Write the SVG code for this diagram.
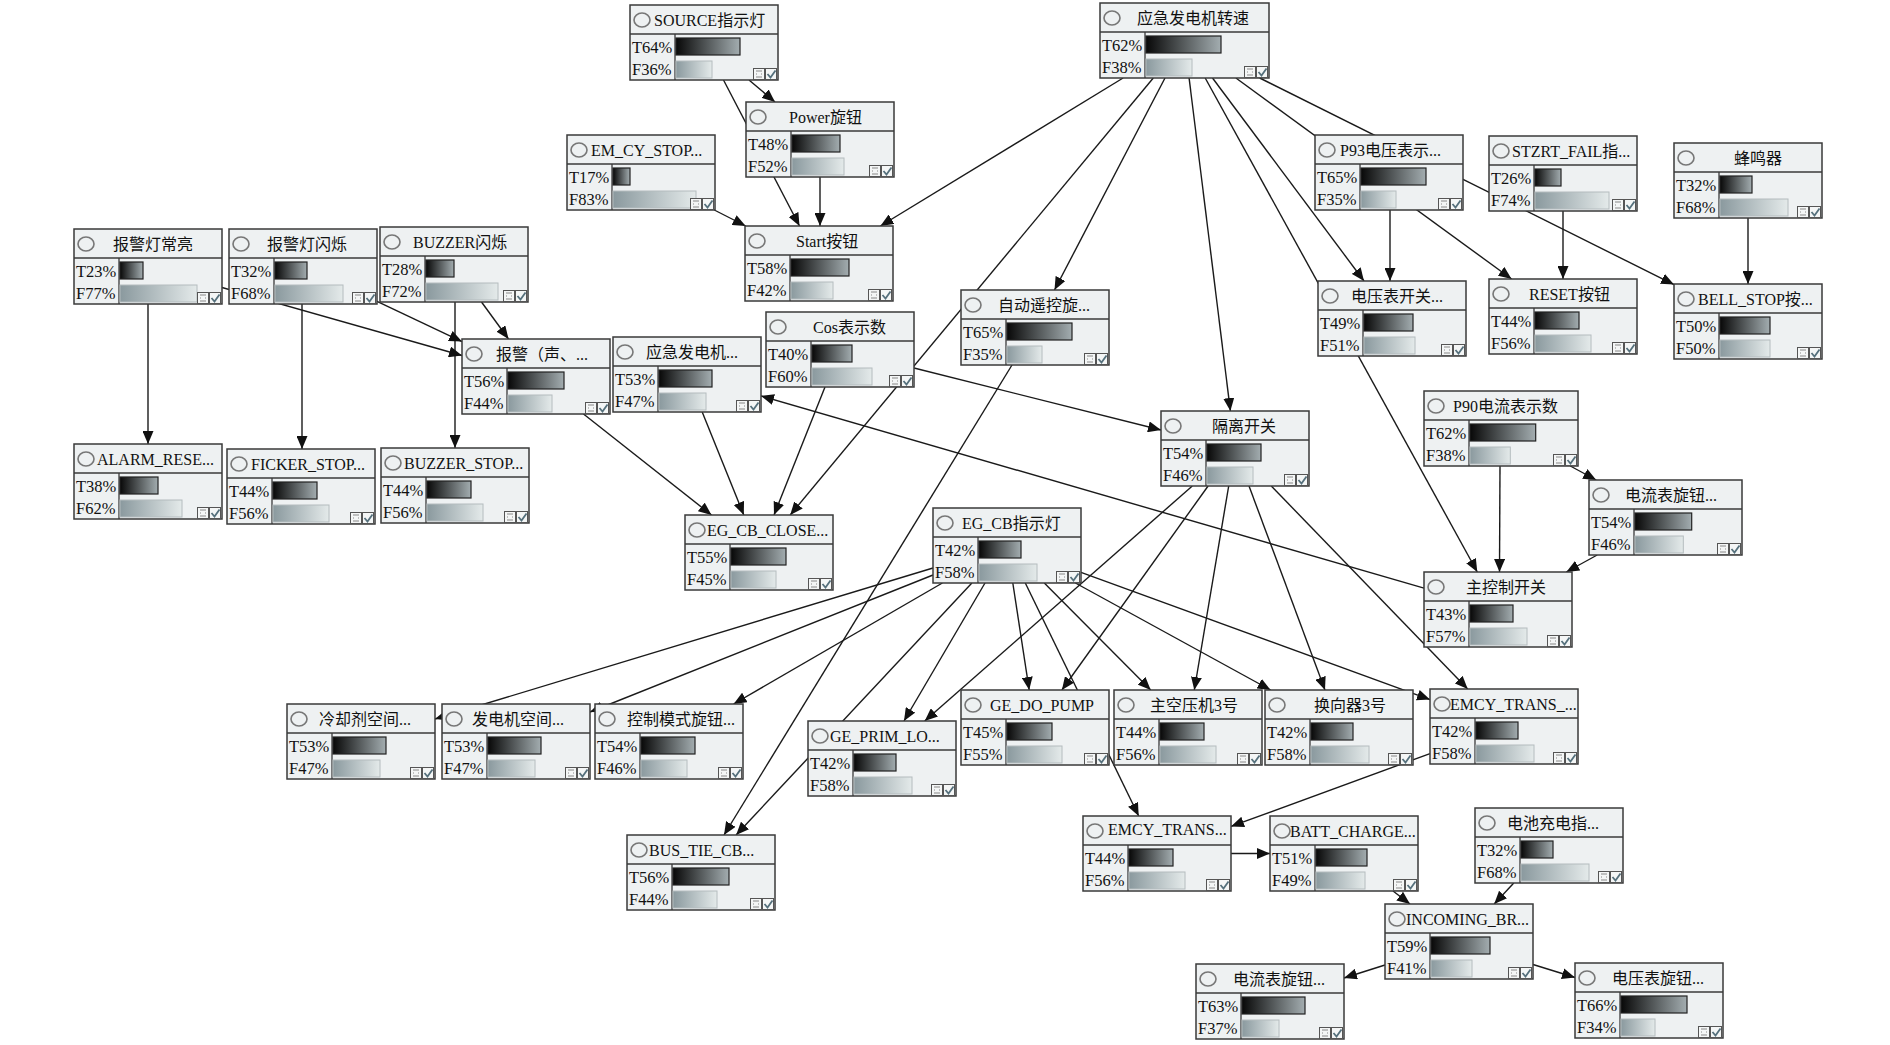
<svg xmlns="http://www.w3.org/2000/svg" xmlns:xlink="http://www.w3.org/1999/xlink" width="1890" height="1045" viewBox="0 0 1890 1045">
<style>
.box{fill:#eef1f2;stroke:#3a3a3a;stroke-width:1.5}
.sep{stroke:#3a3a3a;stroke-width:1.3}
.dot{fill:none;stroke:#777;stroke-width:1.6}
text{font-family:'Liberation Serif','Noto Sans CJK SC',serif;fill:#111}
.ttl{font-size:16px}
.pct{font-size:16.5px}
.tb{fill:url(#gT);stroke:#222;stroke-width:1.2}
.fb{fill:url(#gF);stroke:#b4bcbe;stroke-width:1}
#edges line{stroke:#1a1a1a;stroke-width:1.4;marker-end:url(#arr)}
</style>
<defs>
<linearGradient id="gT" x1="0" y1="0" x2="1" y2="0"><stop offset="0" stop-color="#080808"/><stop offset="1" stop-color="#a3adb0"/></linearGradient>
<linearGradient id="gF" x1="0" y1="0" x2="1" y2="0"><stop offset="0" stop-color="#8a999e"/><stop offset="1" stop-color="#e4eaea"/></linearGradient>
<marker id="arr" markerUnits="userSpaceOnUse" markerWidth="14" markerHeight="11" refX="13" refY="5.5" orient="auto" viewBox="0 0 14 11"><path d="M0,0 L13,5.5 L0,11 z" fill="#111"/></marker>
<g id="ico">
<rect x="0.5" y="0.5" width="11" height="11" fill="#f4f6f6" stroke="#555" stroke-width="1"/>
<path d="M3,3h2M7,3h2M3,6h1M8,6h1M3,9h2M7,9h2M6,2v2M6,8v2" stroke="#888" stroke-width="1"/>
<rect x="12.5" y="0.5" width="11" height="11" fill="#f4f6f6" stroke="#555" stroke-width="1"/>
<path d="M14.5,6 L17.5,9.5 L22.5,2.5" fill="none" stroke="#55707c" stroke-width="1.8"/>
</g>
</defs>
<rect width="1890" height="1045" fill="#ffffff"/>
<g id="edges">
<line x1="749" y1="80" x2="775" y2="102"/>
<line x1="723.5" y1="80" x2="799.5" y2="226"/>
<line x1="820" y1="177" x2="820" y2="226"/>
<line x1="714.3" y1="210" x2="745.7" y2="226"/>
<line x1="1123.1" y1="78" x2="880.4" y2="226"/>
<line x1="1165" y1="78" x2="1054.5" y2="290"/>
<line x1="1153.3" y1="78" x2="790.2" y2="515"/>
<line x1="1189.1" y1="78" x2="1230.4" y2="411"/>
<line x1="1205.2" y1="78" x2="1477.3" y2="572"/>
<line x1="1212.5" y1="78" x2="1364" y2="281"/>
<line x1="1235.9" y1="78" x2="1511.6" y2="279"/>
<line x1="1259.7" y1="78" x2="1674" y2="284.6"/>
<line x1="1390" y1="210" x2="1390" y2="281"/>
<line x1="1563" y1="211" x2="1563" y2="279"/>
<line x1="1748" y1="218" x2="1748" y2="284"/>
<line x1="148" y1="304" x2="148" y2="444"/>
<line x1="302" y1="304" x2="302" y2="449"/>
<line x1="455" y1="302" x2="455" y2="448"/>
<line x1="222" y1="287.5" x2="462" y2="355.5"/>
<line x1="377" y1="301.4" x2="462" y2="341.6"/>
<line x1="481.5" y1="302" x2="508.5" y2="339"/>
<line x1="583.5" y1="414" x2="711.5" y2="515"/>
<line x1="702.2" y1="412" x2="743.8" y2="515"/>
<line x1="825" y1="387" x2="774" y2="515"/>
<line x1="914" y1="368" x2="1161" y2="430"/>
<line x1="1424" y1="588.1" x2="761" y2="395.9"/>
<line x1="1012" y1="365" x2="724" y2="835"/>
<line x1="1192.3" y1="486" x2="924.7" y2="721"/>
<line x1="1208.1" y1="486" x2="1061.9" y2="690"/>
<line x1="1228.7" y1="486" x2="1194.3" y2="690"/>
<line x1="1249" y1="486" x2="1325" y2="690"/>
<line x1="1271.3" y1="486" x2="1467.7" y2="689"/>
<line x1="933" y1="568" x2="435" y2="719"/>
<line x1="933" y1="575" x2="590" y2="712"/>
<line x1="942.4" y1="583" x2="733.6" y2="704"/>
<line x1="985" y1="583" x2="904" y2="721"/>
<line x1="971.9" y1="583" x2="736.1" y2="835"/>
<line x1="1012.8" y1="583" x2="1029.2" y2="690"/>
<line x1="1025.3" y1="583" x2="1138.7" y2="816"/>
<line x1="1044.3" y1="583" x2="1150.7" y2="690"/>
<line x1="1075.4" y1="583" x2="1270.6" y2="690"/>
<line x1="1081" y1="572.4" x2="1430" y2="699.6"/>
<line x1="1430" y1="753.6" x2="1231" y2="826.4"/>
<line x1="1231" y1="853.5" x2="1270" y2="853.5"/>
<line x1="1393" y1="891" x2="1410" y2="904"/>
<line x1="1513.8" y1="883" x2="1494.2" y2="904"/>
<line x1="1385" y1="965" x2="1344" y2="978"/>
<line x1="1533" y1="964.5" x2="1575" y2="977.5"/>
<line x1="1500" y1="466" x2="1499.5" y2="572"/>
<line x1="1570.3" y1="466" x2="1596.2" y2="480"/>
<line x1="1597.2" y1="555" x2="1566.3" y2="572"/>
</g>

<g id="n1" transform="translate(74,229)"><rect class="box" width="148" height="75"/><line class="sep" x1="0" y1="29" x2="148" y2="29"/><line class="sep" x1="45" y1="29" x2="45" y2="75"/><ellipse class="dot" cx="12" cy="15" rx="8" ry="7"/><text class="ttl" x="39" y="21">报警灯常亮</text><text class="pct" x="2" y="48">T23%</text><text class="pct" x="2" y="70">F77%</text><rect class="tb" x="46" y="33" width="23" height="17"/><rect class="fb" x="46" y="56" width="77" height="17"/><use xlink:href="#ico" x="123" y="63"/></g>
<g id="n2" transform="translate(229,229)"><rect class="box" width="148" height="75"/><line class="sep" x1="0" y1="29" x2="148" y2="29"/><line class="sep" x1="45" y1="29" x2="45" y2="75"/><ellipse class="dot" cx="12" cy="15" rx="8" ry="7"/><text class="ttl" x="38" y="21">报警灯闪烁</text><text class="pct" x="2" y="48">T32%</text><text class="pct" x="2" y="70">F68%</text><rect class="tb" x="46" y="33" width="32" height="17"/><rect class="fb" x="46" y="56" width="68" height="17"/><use xlink:href="#ico" x="123" y="63"/></g>
<g id="n3" transform="translate(380,227)"><rect class="box" width="148" height="75"/><line class="sep" x1="0" y1="29" x2="148" y2="29"/><line class="sep" x1="45" y1="29" x2="45" y2="75"/><ellipse class="dot" cx="12" cy="15" rx="8" ry="7"/><text class="ttl" x="33" y="21">BUZZER闪烁</text><text class="pct" x="2" y="48">T28%</text><text class="pct" x="2" y="70">F72%</text><rect class="tb" x="46" y="33" width="28" height="17"/><rect class="fb" x="46" y="56" width="72" height="17"/><use xlink:href="#ico" x="123" y="63"/></g>
<g id="n4" transform="translate(630,5)"><rect class="box" width="148" height="75"/><line class="sep" x1="0" y1="29" x2="148" y2="29"/><line class="sep" x1="45" y1="29" x2="45" y2="75"/><ellipse class="dot" cx="12" cy="15" rx="8" ry="7"/><text class="ttl" x="24" y="21">SOURCE指示灯</text><text class="pct" x="2" y="48">T64%</text><text class="pct" x="2" y="70">F36%</text><rect class="tb" x="46" y="33" width="64" height="17"/><rect class="fb" x="46" y="56" width="36" height="17"/><use xlink:href="#ico" x="123" y="63"/></g>
<g id="n5" transform="translate(746,102)"><rect class="box" width="148" height="75"/><line class="sep" x1="0" y1="29" x2="148" y2="29"/><line class="sep" x1="45" y1="29" x2="45" y2="75"/><ellipse class="dot" cx="12" cy="15" rx="8" ry="7"/><text class="ttl" x="43" y="21">Power旋钮</text><text class="pct" x="2" y="48">T48%</text><text class="pct" x="2" y="70">F52%</text><rect class="tb" x="46" y="33" width="48" height="17"/><rect class="fb" x="46" y="56" width="52" height="17"/><use xlink:href="#ico" x="123" y="63"/></g>
<g id="n6" transform="translate(567,135)"><rect class="box" width="148" height="75"/><line class="sep" x1="0" y1="29" x2="148" y2="29"/><line class="sep" x1="45" y1="29" x2="45" y2="75"/><ellipse class="dot" cx="12" cy="15" rx="8" ry="7"/><text class="ttl" x="24" y="21">EM_CY_STOP...</text><text class="pct" x="2" y="48">T17%</text><text class="pct" x="2" y="70">F83%</text><rect class="tb" x="46" y="33" width="17" height="17"/><rect class="fb" x="46" y="56" width="83" height="17"/><use xlink:href="#ico" x="123" y="63"/></g>
<g id="n7" transform="translate(745,226)"><rect class="box" width="148" height="75"/><line class="sep" x1="0" y1="29" x2="148" y2="29"/><line class="sep" x1="45" y1="29" x2="45" y2="75"/><ellipse class="dot" cx="12" cy="15" rx="8" ry="7"/><text class="ttl" x="51" y="21">Start按钮</text><text class="pct" x="2" y="48">T58%</text><text class="pct" x="2" y="70">F42%</text><rect class="tb" x="46" y="33" width="58" height="17"/><rect class="fb" x="46" y="56" width="42" height="17"/><use xlink:href="#ico" x="123" y="63"/></g>
<g id="n8" transform="translate(766,312)"><rect class="box" width="148" height="75"/><line class="sep" x1="0" y1="29" x2="148" y2="29"/><line class="sep" x1="45" y1="29" x2="45" y2="75"/><ellipse class="dot" cx="12" cy="15" rx="8" ry="7"/><text class="ttl" x="47" y="21">Cos表示数</text><text class="pct" x="2" y="48">T40%</text><text class="pct" x="2" y="70">F60%</text><rect class="tb" x="46" y="33" width="40" height="17"/><rect class="fb" x="46" y="56" width="60" height="17"/><use xlink:href="#ico" x="123" y="63"/></g>
<g id="n9" transform="translate(1100,3)"><rect class="box" width="169" height="75"/><line class="sep" x1="0" y1="29" x2="169" y2="29"/><line class="sep" x1="45" y1="29" x2="45" y2="75"/><ellipse class="dot" cx="12" cy="15" rx="8" ry="7"/><text class="ttl" x="37" y="21">应急发电机转速</text><text class="pct" x="2" y="48">T62%</text><text class="pct" x="2" y="70">F38%</text><rect class="tb" x="46" y="33" width="75" height="17"/><rect class="fb" x="46" y="56" width="46" height="17"/><use xlink:href="#ico" x="144" y="63"/></g>
<g id="n10" transform="translate(1315,135)"><rect class="box" width="148" height="75"/><line class="sep" x1="0" y1="29" x2="148" y2="29"/><line class="sep" x1="45" y1="29" x2="45" y2="75"/><ellipse class="dot" cx="12" cy="15" rx="8" ry="7"/><text class="ttl" x="25" y="21">P93电压表示...</text><text class="pct" x="2" y="48">T65%</text><text class="pct" x="2" y="70">F35%</text><rect class="tb" x="46" y="33" width="65" height="17"/><rect class="fb" x="46" y="56" width="35" height="17"/><use xlink:href="#ico" x="123" y="63"/></g>
<g id="n11" transform="translate(1489,136)"><rect class="box" width="148" height="75"/><line class="sep" x1="0" y1="29" x2="148" y2="29"/><line class="sep" x1="45" y1="29" x2="45" y2="75"/><ellipse class="dot" cx="12" cy="15" rx="8" ry="7"/><text class="ttl" x="23" y="21">STZRT_FAIL指...</text><text class="pct" x="2" y="48">T26%</text><text class="pct" x="2" y="70">F74%</text><rect class="tb" x="46" y="33" width="26" height="17"/><rect class="fb" x="46" y="56" width="74" height="17"/><use xlink:href="#ico" x="123" y="63"/></g>
<g id="n12" transform="translate(1674,143)"><rect class="box" width="148" height="75"/><line class="sep" x1="0" y1="29" x2="148" y2="29"/><line class="sep" x1="45" y1="29" x2="45" y2="75"/><ellipse class="dot" cx="12" cy="15" rx="8" ry="7"/><text class="ttl" x="60" y="21">蜂鸣器</text><text class="pct" x="2" y="48">T32%</text><text class="pct" x="2" y="70">F68%</text><rect class="tb" x="46" y="33" width="32" height="17"/><rect class="fb" x="46" y="56" width="68" height="17"/><use xlink:href="#ico" x="123" y="63"/></g>
<g id="n13" transform="translate(961,290)"><rect class="box" width="148" height="75"/><line class="sep" x1="0" y1="29" x2="148" y2="29"/><line class="sep" x1="45" y1="29" x2="45" y2="75"/><ellipse class="dot" cx="12" cy="15" rx="8" ry="7"/><text class="ttl" x="37" y="21">自动遥控旋...</text><text class="pct" x="2" y="48">T65%</text><text class="pct" x="2" y="70">F35%</text><rect class="tb" x="46" y="33" width="65" height="17"/><rect class="fb" x="46" y="56" width="35" height="17"/><use xlink:href="#ico" x="123" y="63"/></g>
<g id="n14" transform="translate(1318,281)"><rect class="box" width="148" height="75"/><line class="sep" x1="0" y1="29" x2="148" y2="29"/><line class="sep" x1="45" y1="29" x2="45" y2="75"/><ellipse class="dot" cx="12" cy="15" rx="8" ry="7"/><text class="ttl" x="33" y="21">电压表开关...</text><text class="pct" x="2" y="48">T49%</text><text class="pct" x="2" y="70">F51%</text><rect class="tb" x="46" y="33" width="49" height="17"/><rect class="fb" x="46" y="56" width="51" height="17"/><use xlink:href="#ico" x="123" y="63"/></g>
<g id="n15" transform="translate(1489,279)"><rect class="box" width="148" height="75"/><line class="sep" x1="0" y1="29" x2="148" y2="29"/><line class="sep" x1="45" y1="29" x2="45" y2="75"/><ellipse class="dot" cx="12" cy="15" rx="8" ry="7"/><text class="ttl" x="40" y="21">RESET按钮</text><text class="pct" x="2" y="48">T44%</text><text class="pct" x="2" y="70">F56%</text><rect class="tb" x="46" y="33" width="44" height="17"/><rect class="fb" x="46" y="56" width="56" height="17"/><use xlink:href="#ico" x="123" y="63"/></g>
<g id="n16" transform="translate(1674,284)"><rect class="box" width="148" height="75"/><line class="sep" x1="0" y1="29" x2="148" y2="29"/><line class="sep" x1="45" y1="29" x2="45" y2="75"/><ellipse class="dot" cx="12" cy="15" rx="8" ry="7"/><text class="ttl" x="24" y="21">BELL_STOP按...</text><text class="pct" x="2" y="48">T50%</text><text class="pct" x="2" y="70">F50%</text><rect class="tb" x="46" y="33" width="50" height="17"/><rect class="fb" x="46" y="56" width="50" height="17"/><use xlink:href="#ico" x="123" y="63"/></g>
<g id="n17" transform="translate(462,339)"><rect class="box" width="148" height="75"/><line class="sep" x1="0" y1="29" x2="148" y2="29"/><line class="sep" x1="45" y1="29" x2="45" y2="75"/><ellipse class="dot" cx="12" cy="15" rx="8" ry="7"/><text class="ttl" x="34" y="21">报警（声、...</text><text class="pct" x="2" y="48">T56%</text><text class="pct" x="2" y="70">F44%</text><rect class="tb" x="46" y="33" width="56" height="17"/><rect class="fb" x="46" y="56" width="44" height="17"/><use xlink:href="#ico" x="123" y="63"/></g>
<g id="n18" transform="translate(613,337)"><rect class="box" width="148" height="75"/><line class="sep" x1="0" y1="29" x2="148" y2="29"/><line class="sep" x1="45" y1="29" x2="45" y2="75"/><ellipse class="dot" cx="12" cy="15" rx="8" ry="7"/><text class="ttl" x="33" y="21">应急发电机...</text><text class="pct" x="2" y="48">T53%</text><text class="pct" x="2" y="70">F47%</text><rect class="tb" x="46" y="33" width="53" height="17"/><rect class="fb" x="46" y="56" width="47" height="17"/><use xlink:href="#ico" x="123" y="63"/></g>
<g id="n19" transform="translate(74,444)"><rect class="box" width="148" height="75"/><line class="sep" x1="0" y1="29" x2="148" y2="29"/><line class="sep" x1="45" y1="29" x2="45" y2="75"/><ellipse class="dot" cx="12" cy="15" rx="8" ry="7"/><text class="ttl" x="23" y="21">ALARM_RESE...</text><text class="pct" x="2" y="48">T38%</text><text class="pct" x="2" y="70">F62%</text><rect class="tb" x="46" y="33" width="38" height="17"/><rect class="fb" x="46" y="56" width="62" height="17"/><use xlink:href="#ico" x="123" y="63"/></g>
<g id="n20" transform="translate(227,449)"><rect class="box" width="148" height="75"/><line class="sep" x1="0" y1="29" x2="148" y2="29"/><line class="sep" x1="45" y1="29" x2="45" y2="75"/><ellipse class="dot" cx="12" cy="15" rx="8" ry="7"/><text class="ttl" x="24" y="21">FICKER_STOP...</text><text class="pct" x="2" y="48">T44%</text><text class="pct" x="2" y="70">F56%</text><rect class="tb" x="46" y="33" width="44" height="17"/><rect class="fb" x="46" y="56" width="56" height="17"/><use xlink:href="#ico" x="123" y="63"/></g>
<g id="n21" transform="translate(381,448)"><rect class="box" width="148" height="75"/><line class="sep" x1="0" y1="29" x2="148" y2="29"/><line class="sep" x1="45" y1="29" x2="45" y2="75"/><ellipse class="dot" cx="12" cy="15" rx="8" ry="7"/><text class="ttl" x="23" y="21">BUZZER_STOP...</text><text class="pct" x="2" y="48">T44%</text><text class="pct" x="2" y="70">F56%</text><rect class="tb" x="46" y="33" width="44" height="17"/><rect class="fb" x="46" y="56" width="56" height="17"/><use xlink:href="#ico" x="123" y="63"/></g>
<g id="n22" transform="translate(685,515)"><rect class="box" width="148" height="75"/><line class="sep" x1="0" y1="29" x2="148" y2="29"/><line class="sep" x1="45" y1="29" x2="45" y2="75"/><ellipse class="dot" cx="12" cy="15" rx="8" ry="7"/><text class="ttl" x="22" y="21">EG_CB_CLOSE...</text><text class="pct" x="2" y="48">T55%</text><text class="pct" x="2" y="70">F45%</text><rect class="tb" x="46" y="33" width="55" height="17"/><rect class="fb" x="46" y="56" width="45" height="17"/><use xlink:href="#ico" x="123" y="63"/></g>
<g id="n23" transform="translate(1161,411)"><rect class="box" width="148" height="75"/><line class="sep" x1="0" y1="29" x2="148" y2="29"/><line class="sep" x1="45" y1="29" x2="45" y2="75"/><ellipse class="dot" cx="12" cy="15" rx="8" ry="7"/><text class="ttl" x="51" y="21">隔离开关</text><text class="pct" x="2" y="48">T54%</text><text class="pct" x="2" y="70">F46%</text><rect class="tb" x="46" y="33" width="54" height="17"/><rect class="fb" x="46" y="56" width="46" height="17"/><use xlink:href="#ico" x="123" y="63"/></g>
<g id="n24" transform="translate(933,508)"><rect class="box" width="148" height="75"/><line class="sep" x1="0" y1="29" x2="148" y2="29"/><line class="sep" x1="45" y1="29" x2="45" y2="75"/><ellipse class="dot" cx="12" cy="15" rx="8" ry="7"/><text class="ttl" x="29" y="21">EG_CB指示灯</text><text class="pct" x="2" y="48">T42%</text><text class="pct" x="2" y="70">F58%</text><rect class="tb" x="46" y="33" width="42" height="17"/><rect class="fb" x="46" y="56" width="58" height="17"/><use xlink:href="#ico" x="123" y="63"/></g>
<g id="n25" transform="translate(1424,391)"><rect class="box" width="154" height="75"/><line class="sep" x1="0" y1="29" x2="154" y2="29"/><line class="sep" x1="45" y1="29" x2="45" y2="75"/><ellipse class="dot" cx="12" cy="15" rx="8" ry="7"/><text class="ttl" x="29" y="21">P90电流表示数</text><text class="pct" x="2" y="48">T62%</text><text class="pct" x="2" y="70">F38%</text><rect class="tb" x="46" y="33" width="65.7" height="17"/><rect class="fb" x="46" y="56" width="40.3" height="17"/><use xlink:href="#ico" x="129" y="63"/></g>
<g id="n26" transform="translate(1589,480)"><rect class="box" width="153" height="75"/><line class="sep" x1="0" y1="29" x2="153" y2="29"/><line class="sep" x1="45" y1="29" x2="45" y2="75"/><ellipse class="dot" cx="12" cy="15" rx="8" ry="7"/><text class="ttl" x="36" y="21">电流表旋钮...</text><text class="pct" x="2" y="48">T54%</text><text class="pct" x="2" y="70">F46%</text><rect class="tb" x="46" y="33" width="56.7" height="17"/><rect class="fb" x="46" y="56" width="48.3" height="17"/><use xlink:href="#ico" x="128" y="63"/></g>
<g id="n27" transform="translate(1424,572)"><rect class="box" width="148" height="75"/><line class="sep" x1="0" y1="29" x2="148" y2="29"/><line class="sep" x1="45" y1="29" x2="45" y2="75"/><ellipse class="dot" cx="12" cy="15" rx="8" ry="7"/><text class="ttl" x="42" y="21">主控制开关</text><text class="pct" x="2" y="48">T43%</text><text class="pct" x="2" y="70">F57%</text><rect class="tb" x="46" y="33" width="43" height="17"/><rect class="fb" x="46" y="56" width="57" height="17"/><use xlink:href="#ico" x="123" y="63"/></g>
<g id="n28" transform="translate(287,704)"><rect class="box" width="148" height="75"/><line class="sep" x1="0" y1="29" x2="148" y2="29"/><line class="sep" x1="45" y1="29" x2="45" y2="75"/><ellipse class="dot" cx="12" cy="15" rx="8" ry="7"/><text class="ttl" x="32" y="21">冷却剂空间...</text><text class="pct" x="2" y="48">T53%</text><text class="pct" x="2" y="70">F47%</text><rect class="tb" x="46" y="33" width="53" height="17"/><rect class="fb" x="46" y="56" width="47" height="17"/><use xlink:href="#ico" x="123" y="63"/></g>
<g id="n29" transform="translate(442,704)"><rect class="box" width="148" height="75"/><line class="sep" x1="0" y1="29" x2="148" y2="29"/><line class="sep" x1="45" y1="29" x2="45" y2="75"/><ellipse class="dot" cx="12" cy="15" rx="8" ry="7"/><text class="ttl" x="30" y="21">发电机空间...</text><text class="pct" x="2" y="48">T53%</text><text class="pct" x="2" y="70">F47%</text><rect class="tb" x="46" y="33" width="53" height="17"/><rect class="fb" x="46" y="56" width="47" height="17"/><use xlink:href="#ico" x="123" y="63"/></g>
<g id="n30" transform="translate(595,704)"><rect class="box" width="148" height="75"/><line class="sep" x1="0" y1="29" x2="148" y2="29"/><line class="sep" x1="45" y1="29" x2="45" y2="75"/><ellipse class="dot" cx="12" cy="15" rx="8" ry="7"/><text class="ttl" x="32" y="21">控制模式旋钮...</text><text class="pct" x="2" y="48">T54%</text><text class="pct" x="2" y="70">F46%</text><rect class="tb" x="46" y="33" width="54" height="17"/><rect class="fb" x="46" y="56" width="46" height="17"/><use xlink:href="#ico" x="123" y="63"/></g>
<g id="n31" transform="translate(808,721)"><rect class="box" width="148" height="75"/><line class="sep" x1="0" y1="29" x2="148" y2="29"/><line class="sep" x1="45" y1="29" x2="45" y2="75"/><ellipse class="dot" cx="12" cy="15" rx="8" ry="7"/><text class="ttl" x="22" y="21">GE_PRIM_LO...</text><text class="pct" x="2" y="48">T42%</text><text class="pct" x="2" y="70">F58%</text><rect class="tb" x="46" y="33" width="42" height="17"/><rect class="fb" x="46" y="56" width="58" height="17"/><use xlink:href="#ico" x="123" y="63"/></g>
<g id="n32" transform="translate(627,835)"><rect class="box" width="148" height="75"/><line class="sep" x1="0" y1="29" x2="148" y2="29"/><line class="sep" x1="45" y1="29" x2="45" y2="75"/><ellipse class="dot" cx="12" cy="15" rx="8" ry="7"/><text class="ttl" x="22" y="21">BUS_TIE_CB...</text><text class="pct" x="2" y="48">T56%</text><text class="pct" x="2" y="70">F44%</text><rect class="tb" x="46" y="33" width="56" height="17"/><rect class="fb" x="46" y="56" width="44" height="17"/><use xlink:href="#ico" x="123" y="63"/></g>
<g id="n33" transform="translate(961,690)"><rect class="box" width="148" height="75"/><line class="sep" x1="0" y1="29" x2="148" y2="29"/><line class="sep" x1="45" y1="29" x2="45" y2="75"/><ellipse class="dot" cx="12" cy="15" rx="8" ry="7"/><text class="ttl" x="29" y="21">GE_DO_PUMP</text><text class="pct" x="2" y="48">T45%</text><text class="pct" x="2" y="70">F55%</text><rect class="tb" x="46" y="33" width="45" height="17"/><rect class="fb" x="46" y="56" width="55" height="17"/><use xlink:href="#ico" x="123" y="63"/></g>
<g id="n34" transform="translate(1114,690)"><rect class="box" width="148" height="75"/><line class="sep" x1="0" y1="29" x2="148" y2="29"/><line class="sep" x1="45" y1="29" x2="45" y2="75"/><ellipse class="dot" cx="12" cy="15" rx="8" ry="7"/><text class="ttl" x="36" y="21">主空压机3号</text><text class="pct" x="2" y="48">T44%</text><text class="pct" x="2" y="70">F56%</text><rect class="tb" x="46" y="33" width="44" height="17"/><rect class="fb" x="46" y="56" width="56" height="17"/><use xlink:href="#ico" x="123" y="63"/></g>
<g id="n35" transform="translate(1265,690)"><rect class="box" width="148" height="75"/><line class="sep" x1="0" y1="29" x2="148" y2="29"/><line class="sep" x1="45" y1="29" x2="45" y2="75"/><ellipse class="dot" cx="12" cy="15" rx="8" ry="7"/><text class="ttl" x="49" y="21">换向器3号</text><text class="pct" x="2" y="48">T42%</text><text class="pct" x="2" y="70">F58%</text><rect class="tb" x="46" y="33" width="42" height="17"/><rect class="fb" x="46" y="56" width="58" height="17"/><use xlink:href="#ico" x="123" y="63"/></g>
<g id="n36" transform="translate(1430,689)"><rect class="box" width="148" height="75"/><line class="sep" x1="0" y1="29" x2="148" y2="29"/><line class="sep" x1="45" y1="29" x2="45" y2="75"/><ellipse class="dot" cx="12" cy="15" rx="8" ry="7"/><text class="ttl" x="20" y="21">EMCY_TRANS_...</text><text class="pct" x="2" y="48">T42%</text><text class="pct" x="2" y="70">F58%</text><rect class="tb" x="46" y="33" width="42" height="17"/><rect class="fb" x="46" y="56" width="58" height="17"/><use xlink:href="#ico" x="123" y="63"/></g>
<g id="n37" transform="translate(1083,816)"><rect class="box" width="148" height="75"/><line class="sep" x1="0" y1="29" x2="148" y2="29"/><line class="sep" x1="45" y1="29" x2="45" y2="75"/><ellipse class="dot" cx="12" cy="15" rx="8" ry="7"/><text class="ttl" x="25" y="19">EMCY_TRANS...</text><text class="pct" x="2" y="48">T44%</text><text class="pct" x="2" y="70">F56%</text><rect class="tb" x="46" y="33" width="44" height="17"/><rect class="fb" x="46" y="56" width="56" height="17"/><use xlink:href="#ico" x="123" y="63"/></g>
<g id="n38" transform="translate(1270,816)"><rect class="box" width="148" height="75"/><line class="sep" x1="0" y1="29" x2="148" y2="29"/><line class="sep" x1="45" y1="29" x2="45" y2="75"/><ellipse class="dot" cx="12" cy="15" rx="8" ry="7"/><text class="ttl" x="20" y="21">BATT_CHARGE...</text><text class="pct" x="2" y="48">T51%</text><text class="pct" x="2" y="70">F49%</text><rect class="tb" x="46" y="33" width="51" height="17"/><rect class="fb" x="46" y="56" width="49" height="17"/><use xlink:href="#ico" x="123" y="63"/></g>
<g id="n39" transform="translate(1475,808)"><rect class="box" width="148" height="75"/><line class="sep" x1="0" y1="29" x2="148" y2="29"/><line class="sep" x1="45" y1="29" x2="45" y2="75"/><ellipse class="dot" cx="12" cy="15" rx="8" ry="7"/><text class="ttl" x="32" y="21">电池充电指...</text><text class="pct" x="2" y="48">T32%</text><text class="pct" x="2" y="70">F68%</text><rect class="tb" x="46" y="33" width="32" height="17"/><rect class="fb" x="46" y="56" width="68" height="17"/><use xlink:href="#ico" x="123" y="63"/></g>
<g id="n40" transform="translate(1385,904)"><rect class="box" width="148" height="75"/><line class="sep" x1="0" y1="29" x2="148" y2="29"/><line class="sep" x1="45" y1="29" x2="45" y2="75"/><ellipse class="dot" cx="12" cy="15" rx="8" ry="7"/><text class="ttl" x="21" y="21">INCOMING_BR...</text><text class="pct" x="2" y="48">T59%</text><text class="pct" x="2" y="70">F41%</text><rect class="tb" x="46" y="33" width="59" height="17"/><rect class="fb" x="46" y="56" width="41" height="17"/><use xlink:href="#ico" x="123" y="63"/></g>
<g id="n41" transform="translate(1196,964)"><rect class="box" width="148" height="75"/><line class="sep" x1="0" y1="29" x2="148" y2="29"/><line class="sep" x1="45" y1="29" x2="45" y2="75"/><ellipse class="dot" cx="12" cy="15" rx="8" ry="7"/><text class="ttl" x="37" y="21">电流表旋钮...</text><text class="pct" x="2" y="48">T63%</text><text class="pct" x="2" y="70">F37%</text><rect class="tb" x="46" y="33" width="63" height="17"/><rect class="fb" x="46" y="56" width="37" height="17"/><use xlink:href="#ico" x="123" y="63"/></g>
<g id="n42" transform="translate(1575,963)"><rect class="box" width="148" height="75"/><line class="sep" x1="0" y1="29" x2="148" y2="29"/><line class="sep" x1="45" y1="29" x2="45" y2="75"/><ellipse class="dot" cx="12" cy="15" rx="8" ry="7"/><text class="ttl" x="37" y="21">电压表旋钮...</text><text class="pct" x="2" y="48">T66%</text><text class="pct" x="2" y="70">F34%</text><rect class="tb" x="46" y="33" width="66" height="17"/><rect class="fb" x="46" y="56" width="34" height="17"/><use xlink:href="#ico" x="123" y="63"/></g>
</svg>
